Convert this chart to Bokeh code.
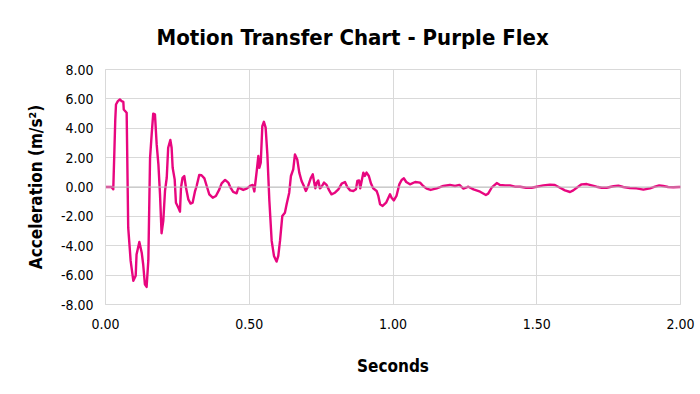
from bokeh.plotting import figure
from bokeh.models import Span, FixedTicker, NumeralTickFormatter, Range1d
from bokeh.embed import file_html
from bokeh.resources import INLINE

title_text = "Motion Transfer Chart - Purple Flex"
x_label = "Seconds"
y_label = "Acceleration (m/s²)"

x_ticks = [0.0, 0.5, 1.0, 1.5, 2.0]
y_ticks = [-8, -6, -4, -2, 0, 2, 4, 6, 8]

seconds = [
    0.000, 0.021, 0.027, 0.031, 0.034, 0.0365, 0.043, 0.050, 0.056, 0.062, 0.0635, 0.0736,
    0.079, 0.0875, 0.0968, 0.105, 0.108, 0.1177, 0.126, 0.131, 0.137, 0.143, 0.149,
    0.155, 0.1606, 0.166, 0.172, 0.178, 0.184, 0.1896, 0.195, 0.201, 0.207, 0.213,
    0.218, 0.2255, 0.230, 0.2336, 0.2406, 0.245, 0.2535, 0.259, 0.2626, 0.268, 0.274,
    0.280, 0.288, 0.296, 0.303, 0.311, 0.317, 0.326, 0.334, 0.344, 0.352, 0.361, 0.373,
    0.384, 0.396, 0.404, 0.416, 0.427, 0.435, 0.444, 0.456, 0.462, 0.470, 0.479, 0.491,
    0.503, 0.512, 0.5177, 0.526, 0.5316, 0.535, 0.540, 0.5455, 0.551, 0.557, 0.563,
    0.570, 0.578, 0.586, 0.595, 0.601, 0.607, 0.615, 0.624, 0.630, 0.639, 0.645, 0.653,
    0.659, 0.667, 0.674, 0.682, 0.690, 0.697, 0.705, 0.7136, 0.721, 0.726, 0.730, 0.735,
    0.740, 0.7457, 0.751, 0.760, 0.769, 0.778, 0.786, 0.798, 0.810, 0.8215, 0.833, 0.841,
    0.851, 0.862, 0.871, 0.876, 0.882, 0.886, 0.891, 0.897, 0.902, 0.908, 0.916, 0.9235,
    0.931, 0.943, 0.949, 0.955, 0.964, 0.976, 0.984, 0.9896, 0.995, 1.003, 1.012, 1.022,
    1.030, 1.038, 1.046, 1.059, 1.077, 1.094, 1.105, 1.117, 1.131, 1.152, 1.175, 1.198,
    1.216, 1.231, 1.245, 1.254, 1.262, 1.280, 1.303, 1.323, 1.331, 1.343, 1.361, 1.372,
    1.390, 1.407, 1.424, 1.442, 1.463, 1.482, 1.500, 1.523, 1.546, 1.563, 1.581, 1.598,
    1.616, 1.627, 1.639, 1.656, 1.674, 1.691, 1.708, 1.726, 1.743, 1.767, 1.784, 1.801,
    1.824, 1.847, 1.871, 1.894, 1.911, 1.926, 1.940, 1.957, 1.975, 1.995, 2.000,
]

acceleration = [
    0.00, 0.00, -0.16, 2.50, 4.60, 5.62, 5.85, 5.96, 5.85, 5.80, 5.28, 5.05,
    -2.77, -5.03, -6.39, -6.05, -4.60, -3.74, -4.47, -5.26, -6.62, -6.80, -5.00,
    1.99, 3.58, 4.99, 4.94, 2.90, 1.54, -0.50, -3.15, -2.31, -0.27, 0.63,
    2.67, 3.20, 2.67, 1.31, 0.52, -1.07, -1.41, -1.68, -0.05, 0.63, 0.75,
    -0.05, -0.84, -1.13, -1.07, -0.32, 0.07, 0.82, 0.80, 0.59, 0.07, -0.50, -0.73,
    -0.61, -0.16, 0.25, 0.48, 0.30, -0.05, -0.34, -0.43, -0.05, -0.11, -0.20, -0.11,
    0.07, 0.14, -0.30, 1.09, 2.11, 1.30, 1.65, 4.15, 4.44, 4.04, 2.22,
    -0.95, -3.67, -4.69, -5.08, -4.69, -3.67, -1.97, -1.75, -1.18, -0.39, 0.75, 1.20,
    2.22, 1.88, 0.98, 0.41, 0.07, -0.27, 0.07, 0.59, 0.86, 0.30, -0.09, 0.30,
    0.45, -0.09, 0.00, 0.30, 0.14, -0.23, -0.50, -0.39, -0.16, 0.23, 0.34, 0.00,
    -0.23, -0.27, -0.16, 0.41, 0.45, -0.09, 0.41, 0.98, 0.75, 0.98, 0.75, 0.23,
    -0.09, -0.27, -0.61, -1.18, -1.29, -1.07, -0.73, -0.50, -0.73, -0.91, -0.61, 0.18,
    0.48, 0.59, 0.34, 0.18, 0.34, 0.30, 0.07, -0.11, -0.20, -0.09, 0.07, 0.14,
    0.07, 0.14, -0.11, -0.05, 0.02, -0.16, -0.32, -0.54, -0.45, -0.05, 0.27, 0.14,
    0.11, 0.11, 0.02, 0.02, -0.05, -0.05, 0.02, 0.11, 0.16, 0.14, -0.05, -0.23,
    -0.34, -0.23, -0.05, 0.18, 0.20, 0.11, 0.02, -0.05, -0.05, 0.05, 0.09, 0.00,
    -0.07, -0.09, -0.18, -0.09, 0.02, 0.11, 0.07, 0.00, -0.02, 0.00, 0.00,
]

FONT = "DejaVu Sans Condensed"

p = figure(
    width=700, height=394,
    output_backend="svg", toolbar_location=None,
    x_range=Range1d(0, 2), y_range=Range1d(-8, 8),
    min_border_left=105, min_border_right=20, min_border_top=69, min_border_bottom=90,
    title=title_text,
)
p.background_fill_color = "white"
p.border_fill_color = "white"
p.outline_line_color = "#D9D9D9"

p.title.align = "left"
p.title.offset = 51
p.title.standoff = 40
p.title.text_font = FONT
p.title.text_font_style = "bold"
p.title.text_font_size = "22px"
p.title.text_color = "#000000"

# grids
p.xgrid.ticker = FixedTicker(ticks=x_ticks)
p.ygrid.ticker = FixedTicker(ticks=y_ticks)
p.xgrid.grid_line_color = "#D9D9D9"
p.ygrid.grid_line_color = "#D9D9D9"

# axes
for ax in (p.xaxis[0], p.yaxis[0]):
    ax.major_tick_line_color = None
    ax.minor_tick_line_color = None
    ax.axis_line_color = "#D9D9D9"
    ax.major_label_text_font = FONT
    ax.major_label_text_font_size = "14px"
    ax.major_label_text_color = "#000000"
    ax.axis_label_text_font = FONT
    ax.axis_label_text_font_size = "17px"
    ax.axis_label_text_font_style = "bold"
    ax.axis_label_text_color = "#000000"

p.xaxis.ticker = FixedTicker(ticks=x_ticks)
p.yaxis.ticker = FixedTicker(ticks=y_ticks)
p.xaxis.formatter = NumeralTickFormatter(format="0.00")
p.yaxis.formatter = NumeralTickFormatter(format="0.00")
p.xaxis.axis_label = x_label
p.yaxis.axis_label = y_label
p.xaxis.major_label_standoff = 8
p.xaxis.axis_label_standoff = 24
p.yaxis.major_label_standoff = 6
p.yaxis.axis_label_standoff = 12

# zero line
p.add_layout(Span(location=0, dimension="width", line_color="#BFBFBF", line_width=1))

p.line(seconds, acceleration, line_color="#E8067F", line_width=2.4, line_join="round")

open("out.html", "w").write(file_html(p, INLINE))
